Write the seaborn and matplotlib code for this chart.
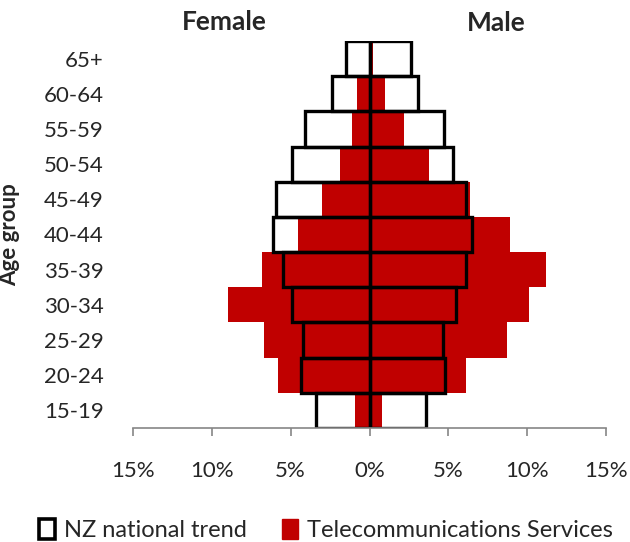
import matplotlib
matplotlib.use("Agg")
import matplotlib.pyplot as plt
import seaborn as sns
import pandas as pd
import numpy as np
from matplotlib.patches import Patch

ages = ['65+', '60-64', '55-59', '50-54', '45-49', '40-44', '35-39', '30-34', '25-29', '20-24', '15-19']
nz_female = [1.5, 2.4, 4.1, 4.9, 5.9, 6.1, 5.5, 4.9, 4.2, 4.35, 3.4]
nz_male = [2.65, 3.1, 4.75, 5.3, 6.15, 6.5, 6.15, 5.5, 4.65, 4.8, 3.6]
tel_female = [0.0, 0.8, 1.1, 1.9, 3.0, 4.55, 6.8, 8.95, 6.7, 5.8, 0.9]
tel_male = [0.2, 1.0, 2.2, 3.8, 6.35, 8.9, 11.2, 10.1, 8.7, 6.1, 0.8]
xticks = [-15, -10, -5, 0, 5, 10, 15]
xticklabels = ['15%', '10%', '5%', '0%', '5%', '10%', '15%']

sns.set_theme(style="white")
plt.rcParams['font.family'] = ['Lato', 'DejaVu Sans']

RED = '#C00000'
fig = plt.figure(figsize=(6.3, 5.42), dpi=100)
ax = fig.add_axes([133/630, 1-428/542, (606-133)/630, (428-41)/542])

df_tf = pd.DataFrame({'age': ages, 'v': [-v for v in tel_female]})
df_tm = pd.DataFrame({'age': ages, 'v': tel_male})
df_nf = pd.DataFrame({'age': ages, 'v': [-v for v in nz_female]})
df_nm = pd.DataFrame({'age': ages, 'v': nz_male})

for d in (df_tf, df_tm):
    sns.barplot(data=d, x='v', y='age', order=ages, orient='h', color=RED,
                saturation=1, width=1.0, errorbar=None, ax=ax, linewidth=0)
for d in (df_nf, df_nm):
    sns.barplot(data=d, x='v', y='age', order=ages, orient='h', color='black',
                fill=False, width=1.0, errorbar=None, ax=ax, linewidth=2.4)

ax.set_xlim(-15, 15)
ax.set_ylim(10.5, -0.5)
ax.set_xticks(xticks)
ax.set_xticklabels(xticklabels, fontsize=16)
ax.tick_params(axis='x', direction='out', length=6, width=1.2, color='#868686', pad=18, bottom=True)
ax.tick_params(axis='y', length=0, pad=21, labelsize=16)
for s in ['top', 'right', 'left']:
    ax.spines[s].set_visible(False)
ax.spines['bottom'].set_color('#868686')
ax.spines['bottom'].set_linewidth(1.2)
ax.set_xlabel('')
ax.set_ylabel('Age group', fontsize=16, fontweight='bold')
ax.yaxis.set_label_coords((20-133)/473, 0.5)
for lbl in ax.get_yticklabels():
    lbl.set_horizontalalignment('right')

fig.text(224/630, 1-22/542, 'Female', ha='center', va='center', fontsize=19, fontweight='bold')
fig.text(496/630, 1-23/542, 'Male', ha='center', va='center', fontsize=19, fontweight='bold')

handles = [Patch(facecolor='white', edgecolor='black', linewidth=2.6, label='NZ national trend'),
           Patch(facecolor=RED, edgecolor=RED, label='Telecommunications Services')]
fig.legend(handles=handles, loc='center', bbox_to_anchor=(0.517, 1-530/542), ncol=2,
           frameon=False, fontsize=17, handlelength=0.7, handleheight=0.9,
           handletextpad=0.35, columnspacing=1.5)

fig.savefig('out.png', dpi=100)
